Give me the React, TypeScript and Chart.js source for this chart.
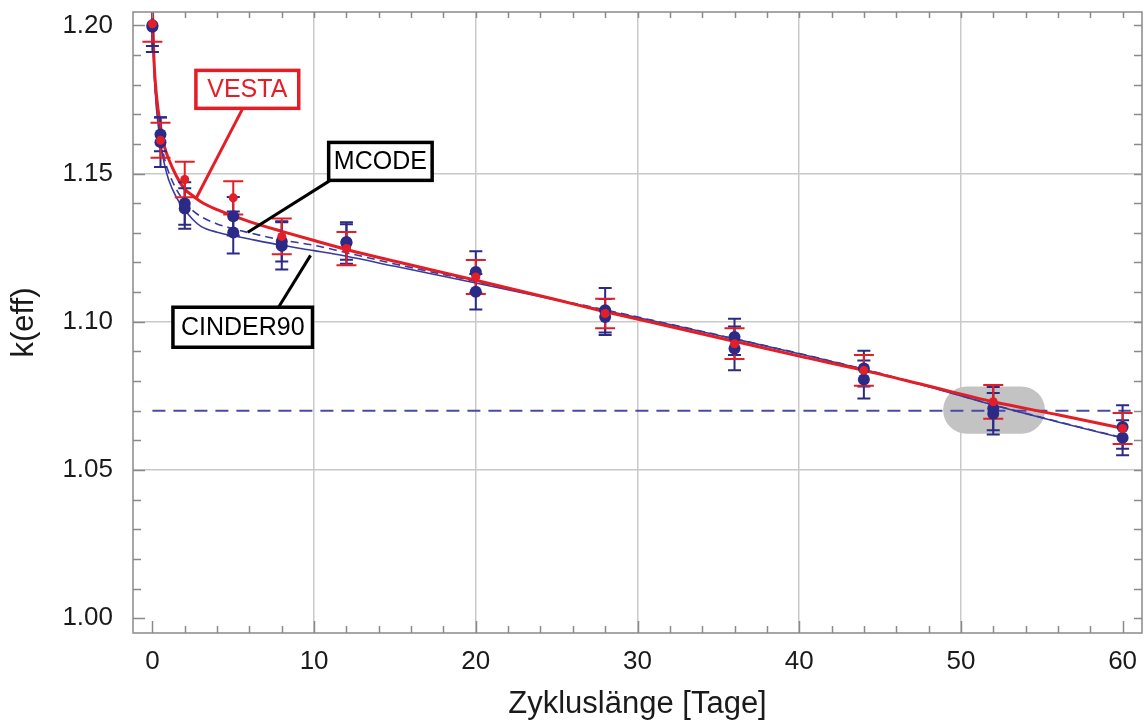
import { useEffect, useRef } from 'react';
import { Chart, registerables } from 'chart.js';

Chart.register(...registerables);

// ---------- data ----------
const sampleDays = [0, 0.5, 2, 5, 8, 12, 20, 28, 36, 44, 52, 60];
const mcodeK = [1.2, 1.1632, 1.1399, 1.1356, 1.1271, 1.1269, 1.1168, 1.1039, 1.0949, 1.0842, 1.0707, 1.0645];
const mcodeErr = [0.007, 0.0057, 0.0072, 0.0065, 0.0068, 0.006, 0.007, 0.0075, 0.0061, 0.006, 0.0073, 0.0073];
const cinderK = [1.1995, 1.1606, 1.1382, 1.1301, 1.1256, 1.1266, 1.1101, 1.1016, 1.091, 1.0805, 1.069, 1.0609];
const cinderErr = [0.0085, 0.0084, 0.0068, 0.0071, 0.008, 0.007, 0.006, 0.0061, 0.0074, 0.0064, 0.007, 0.0059];
const vestaK = [1.2005, 1.1612, 1.148, 1.1418, 1.1288, 1.1247, 1.1151, 1.1028, 1.0926, 1.0836, 1.073, 1.064];
const vestaErr = [0.006, 0.0059, 0.006, 0.0056, 0.006, 0.0056, 0.0057, 0.005, 0.0052, 0.0052, 0.0057, 0.0052];

const curveDays = [0, 0.1, 0.25, 0.5, 0.75, 1, 1.5, 2, 2.5, 3, 4, 5, 6, 8, 10, 12, 15, 20, 25, 28, 32, 36, 40, 44, 48, 52, 56, 60];
const vestaCurve = [1.206, 1.188, 1.1765, 1.166, 1.159, 1.155, 1.149, 1.1447, 1.1425, 1.1405, 1.1378, 1.1357, 1.1338, 1.1305, 1.1274, 1.1244, 1.1204, 1.114, 1.1074, 1.1034, 1.0984, 1.0934, 1.0884, 1.0836, 1.0783, 1.073, 1.0686, 1.0641];
const mcodeCurve = [1.2005, 1.186, 1.1735, 1.1625, 1.155, 1.1505, 1.1445, 1.1405, 1.1375, 1.1355, 1.133, 1.1314, 1.13, 1.1276, 1.1258, 1.1233, 1.1195, 1.1136, 1.1075, 1.104, 1.0992, 1.0943, 1.0893, 1.084, 1.0782, 1.072, 1.0663, 1.0609];
const cinderCurve = [1.2005, 1.185, 1.172, 1.1605, 1.153, 1.148, 1.1418, 1.1378, 1.1345, 1.1322, 1.1302, 1.129, 1.1279, 1.1258, 1.124, 1.1221, 1.1187, 1.1131, 1.1073, 1.1038, 1.0991, 1.0942, 1.0892, 1.0839, 1.0781, 1.0719, 1.0662, 1.0608];

const limitDays = [0, 60.5];
const limitK = [1.07, 1.07];

const xTickValues = [0, 10, 20, 30, 40, 50, 60];
const yTickValues = [1.0, 1.05, 1.1, 1.15, 1.2];
const xMinorStep = 2;
const yMinorStep = 0.01;

const xTitle = 'Zykluslänge [Tage]';
const yTitle = 'k(eff)';

// ---------- styles / annotation layout ----------
const RED = '#e41e26';
const NAVY = '#2b2a86';
const NAVY_LINE = '#3a3a9c';
const FONT = "'Liberation Sans', Arial, sans-serif";

const callouts = [
  { text: 'VESTA', color: RED, box: [2.69, 9.05, 1.172, 1.1848], from: [5.59, 1.172], to: [2.69, 1.1415] },
  { text: 'MCODE', color: '#000', box: [10.9, 17.3, 1.1477, 1.1605], from: [11.0, 1.1477], to: [5.9, 1.1302] },
  { text: 'CINDER90', color: '#000', box: [1.27, 9.9, 1.0914, 1.1049], from: [7.8, 1.1049], to: [9.78, 1.1224] },
];
const highlight = { x0: 48.9, x1: 55.2, y0: 1.0622, y1: 1.0782 };

const pts = (xs: number[], ys: number[]) => xs.map((x, i) => ({ x, y: ys[i] }));

const VESTA_CURVE_INDEX = 3;

const decorPlugin = {
  id: 'decor',
  beforeDatasetsDraw(chart: any) {
    const { ctx } = chart;
    const xs = chart.scales.x;
    const ys = chart.scales.y;
    const l = xs.getPixelForValue(highlight.x0);
    const r = xs.getPixelForValue(highlight.x1);
    const t = ys.getPixelForValue(highlight.y1);
    const b = ys.getPixelForValue(highlight.y0);
    const rad = (b - t) / 2;
    ctx.save();
    ctx.fillStyle = '#c3c3c3';
    ctx.beginPath();
    ctx.moveTo(l + rad, t);
    ctx.lineTo(r - rad, t);
    ctx.arc(r - rad, t + rad, rad, -Math.PI / 2, Math.PI / 2);
    ctx.lineTo(l + rad, b);
    ctx.arc(l + rad, t + rad, rad, Math.PI / 2, (3 * Math.PI) / 2);
    ctx.closePath();
    ctx.fill();
    ctx.restore();
  },
  afterDatasetDraw(chart: any, args: any) {
    if (args.index !== VESTA_CURVE_INDEX) return;
    const { ctx, chartArea } = chart;
    const xs = chart.scales.x;
    const ys = chart.scales.y;
    ctx.save();
    ctx.beginPath();
    ctx.rect(chartArea.left, chartArea.top, chartArea.right - chartArea.left, chartArea.bottom - chartArea.top);
    ctx.clip();
    const bars = (vals: number[], errs: number[], color: string, half: number) => {
      ctx.strokeStyle = color;
      ctx.lineWidth = 2;
      sampleDays.forEach((d, i) => {
        const px = xs.getPixelForValue(d);
        const top = ys.getPixelForValue(vals[i] + errs[i]);
        const bot = ys.getPixelForValue(vals[i] - errs[i]);
        ctx.beginPath();
        ctx.moveTo(px, top);
        ctx.lineTo(px, bot);
        ctx.moveTo(px - half, top);
        ctx.lineTo(px + half, top);
        ctx.moveTo(px - half, bot);
        ctx.lineTo(px + half, bot);
        ctx.stroke();
      });
    };
    bars(mcodeK, mcodeErr, NAVY, 6.5);
    bars(cinderK, cinderErr, NAVY, 6.5);
    bars(vestaK, vestaErr, RED, 10);
    ctx.restore();
  },
  afterDatasetsDraw(chart: any) {
    const { ctx, chartArea } = chart;
    const { left, right, top, bottom } = chartArea;
    const xs = chart.scales.x;
    const ys = chart.scales.y;
    ctx.save();
    // frame
    ctx.strokeStyle = '#8a8a8a';
    ctx.lineWidth = 1.5;
    ctx.strokeRect(left, top, right - left, bottom - top);
    // ticks
    ctx.beginPath();
    for (let v = 0; v <= 60 + 1e-9; v += xMinorStep) {
      const px = Math.round(xs.getPixelForValue(v)) + 0.5;
      const major = Math.abs(v % 10) < 1e-9;
      const len = major ? 12 : 7;
      ctx.moveTo(px, bottom);
      ctx.lineTo(px, bottom - len);
      ctx.moveTo(px, top);
      ctx.lineTo(px, top + 6);
    }
    for (let k = 0; k <= 20; k++) {
      const v = 1.0 + k * yMinorStep;
      const py = Math.round(ys.getPixelForValue(v)) + 0.5;
      const major = k % 5 === 0;
      const len = major ? 12 : 8;
      ctx.moveTo(left, py);
      ctx.lineTo(left + len, py);
      ctx.moveTo(right, py);
      ctx.lineTo(right - 8, py);
    }
    ctx.stroke();
    // callouts
    ctx.font = `25px ${FONT}`;
    ctx.textAlign = 'center';
    ctx.textBaseline = 'middle';
    callouts.forEach((c) => {
      ctx.strokeStyle = c.color;
      ctx.lineWidth = 3;
      ctx.beginPath();
      ctx.moveTo(xs.getPixelForValue(c.from[0]), ys.getPixelForValue(c.from[1]));
      ctx.lineTo(xs.getPixelForValue(c.to[0]), ys.getPixelForValue(c.to[1]));
      ctx.stroke();
      const bl = xs.getPixelForValue(c.box[0]);
      const br = xs.getPixelForValue(c.box[1]);
      const bt = ys.getPixelForValue(c.box[3]);
      const bb = ys.getPixelForValue(c.box[2]);
      ctx.fillStyle = '#fff';
      ctx.fillRect(bl, bt, br - bl, bb - bt);
      ctx.lineWidth = 3.5;
      ctx.strokeRect(bl, bt, br - bl, bb - bt);
      ctx.fillStyle = c.color;
      ctx.fillText(c.text, (bl + br) / 2, (bt + bb) / 2 + 1);
    });
    ctx.restore();
  },
};

export default function App() {
  const ref = useRef<HTMLCanvasElement>(null);
  useEffect(() => {
    const canvas = ref.current;
    if (!canvas) return;
    const chart = new Chart(canvas, {
      type: 'line',
      data: {
        datasets: [
          { label: 'VESTA points', data: pts(sampleDays, vestaK), showLine: false, pointRadius: 4.5, pointBackgroundColor: RED, pointBorderColor: RED, pointBorderWidth: 0 },
          { label: 'MCODE points', data: pts(sampleDays, mcodeK), showLine: false, pointRadius: 6, pointBackgroundColor: NAVY, pointBorderColor: NAVY, pointBorderWidth: 0 },
          { label: 'CINDER90 points', data: pts(sampleDays, cinderK), showLine: false, pointRadius: 6, pointBackgroundColor: NAVY, pointBorderColor: NAVY, pointBorderWidth: 0 },
          { label: 'VESTA', data: pts(curveDays, vestaCurve), borderColor: RED, borderWidth: 3, pointRadius: 0, cubicInterpolationMode: 'monotone' },
          { label: 'MCODE', data: pts(curveDays, mcodeCurve), borderColor: NAVY_LINE, borderWidth: 1.6, borderDash: [8, 5], pointRadius: 0, cubicInterpolationMode: 'monotone' },
          { label: 'CINDER90', data: pts(curveDays, cinderCurve), borderColor: NAVY_LINE, borderWidth: 1.6, pointRadius: 0, cubicInterpolationMode: 'monotone' },
          { label: 'Grenze', data: pts(limitDays, limitK), borderColor: '#4a4aa6', borderWidth: 2, borderDash: [13, 8], pointRadius: 0 },
        ],
      },
      options: {
        responsive: false,
        animation: false,
        devicePixelRatio: 1,
        layout: { padding: { left: 0, right: 5, top: 12, bottom: 0 } },
        plugins: { legend: { display: false }, tooltip: { enabled: false } },
        scales: {
          x: {
            type: 'linear',
            min: -1.2,
            max: 61.2,
            afterBuildTicks: (s: any) => { s.ticks = xTickValues.map((v) => ({ value: v })); },
            afterFit: (s: any) => { s.height = 87; s.paddingLeft = 0; s.paddingRight = 0; },
            grid: {
              drawTicks: false,
              lineWidth: 1.5,
              color: (c: any) => (c.tick && (c.tick.value === 0 || c.tick.value === 60) ? 'rgba(0,0,0,0)' : '#c9c9c9'),
            },
            border: { display: false },
            ticks: { padding: 13, color: '#1a1a1a', font: { family: FONT, size: 26 }, maxRotation: 0, autoSkip: false, callback: (v: any) => String(v) },
            title: { display: true, text: xTitle, color: '#1a1a1a', font: { family: FONT, size: 31, lineHeight: 1 }, padding: { top: 0, bottom: 0 } },
          },
          y: {
            type: 'linear',
            min: 0.995,
            max: 1.2045,
            afterBuildTicks: (s: any) => { s.ticks = yTickValues.map((v) => ({ value: v })); },
            afterFit: (s: any) => { s.width = 133; s.paddingTop = 0; s.paddingBottom = 0; },
            grid: {
              drawTicks: false,
              lineWidth: 1.5,
              color: (c: any) => (c.tick && (Math.abs(c.tick.value - 1.0) < 1e-6 || Math.abs(c.tick.value - 1.2) < 1e-6) ? 'rgba(0,0,0,0)' : '#c9c9c9'),
            },
            border: { display: false },
            ticks: { padding: 20, color: '#1a1a1a', font: { family: FONT, size: 26 }, autoSkip: false, callback: (v: any) => Number(v).toFixed(2) },
            title: { display: true, text: yTitle, color: '#1a1a1a', font: { family: FONT, size: 31, lineHeight: 1 }, padding: { top: 9, bottom: 0 } },
          },
        },
      },
      plugins: [decorPlugin],
    } as any);
    return () => chart.destroy();
  }, []);
  return (
    <div style={{ position: 'absolute', left: 0, top: 0, width: 1148, height: 720, background: '#fff' }}>
      <canvas ref={ref} width={1148} height={720} style={{ display: 'block', width: 1148, height: 720 }} />
    </div>
  );
}
